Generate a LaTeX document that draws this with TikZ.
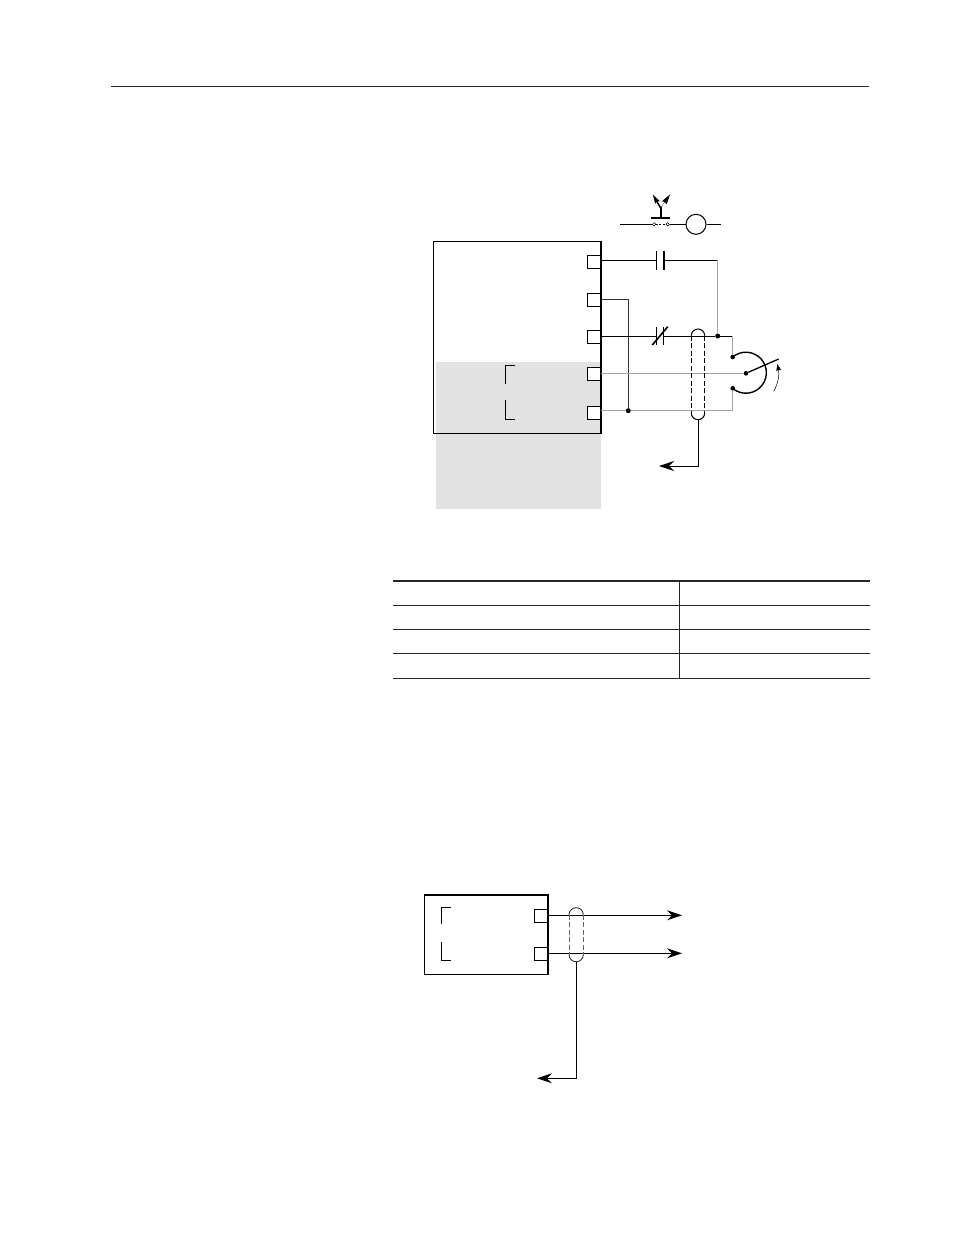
\documentclass[tikz,border=0pt]{standalone}
\usepackage{tikz}
\usetikzlibrary{positioning,arrows.meta}
\definecolor{panelgray}{HTML}{E2E2E2}
\definecolor{wiregray}{HTML}{A4A4A4}
\tikzset{
  term/.style={draw,fill=white,minimum size=13pt,inner sep=0pt,line width=1pt},
  wire/.style={line width=1pt},
  graywire/.style={line width=1pt,draw=wiregray},
  rule/.style={line width=1pt,draw=black!85},
  dot/.style={circle,fill=black,minimum size=5pt,inner sep=0pt},
  opendot/.style={circle,draw,line width=0.5pt,minimum size=3.4pt,inner sep=0pt},
  tip/.style={-{Stealth[length=15pt,width=10pt,inset=5pt]}}
}
\begin{document}
\begin{tikzpicture}[x=1pt,y=-1pt,node distance=37.8pt]
  \useasboundingbox (0,0) rectangle (954,1235);
  \draw[rule] (111,86) coordinate (head1) -- (869,86) coordinate (head2);

  % upper panel
  \node[fill=panelgray,minimum width=165pt,minimum height=147pt,inner sep=0pt] (shade) at (518.5,435.5) {};
  \node[draw,line width=1.2pt,minimum width=167pt,minimum height=192pt,inner sep=0pt] (panel) at (517.2,337.2) {};
  \node[term] (t1) at (593.8,261.8) {};
  \node[term] (t2) [below of=t1] {};
  \node[term] (t3) [below of=t2,yshift=0.8pt] {};
  \node[term] (t4) [below of=t3] {};
  \node[term] (t5) [below of=t4,yshift=-0.4pt] {};
  \draw[line width=2pt] (panel.north east) -- (panel.south east);
  \draw[wire] (515,365.3) -- (505.3,365.3) -- (505.3,383.7);
  \draw[wire] (505.3,400.3) -- (505.3,419.3) -- (515,419.3);

  % push button and lamp
  \node[opendot] (pb1) at (654,224.3) {};
  \node[opendot] (pb2) at (667.7,224.3) {};
  \node[draw,circle,line width=1pt,minimum size=20pt,inner sep=0pt] (lamp) at (696,224.3) {};
  \coordinate (lampin) at (620,224.3);
  \coordinate (lampout) at (720.7,224.3);
  \draw[wire] (lampin) -- (pb1);
  \draw[wire] (pb2) -- (lamp);
  \draw[wire] (lamp) -- (lampout);
  \draw[line width=0.7pt,dashed,dash pattern=on 2pt off 1.5pt] (pb1) -- (pb2);
  \draw[line width=2pt] (651,217.7) -- (670,217.7);
  \draw[line width=1.6pt] (660.7,217.7) -- (660.7,207);
  \draw[line width=1.5pt,-{Stealth[length=9pt,width=5pt,inset=1pt]}] (660.7,208) -- (652.8,194.5);
  \draw[line width=0.6pt,densely dotted,-{Stealth[length=10pt,width=5.5pt,inset=1pt]}] (660.7,208) -- (670,194.5);

  % contacts
  \coordinate (c1a) at (656.3,260.3);
  \coordinate (c1b) at (664,260.3);
  \coordinate (c2a) at (656,336);
  \coordinate (c2b) at (663.7,336);
  \coordinate (corner1) at (717.7,260.3);
  \coordinate (corner2) at (628.3,299.3);
  \node[dot] (j1) at (717.7,336) {};
  \node[dot] (j2) at (628.3,410.7) {};
  \node[dot,minimum size=4.6pt] (pot1) at (732.7,357) {};
  \node[dot,minimum size=4.6pt] (pot2) at (732.7,388.3) {};
  \node[dot,minimum size=4.6pt] (wiper) at (746,373.3) {};
  \coordinate (corner3) at (732.7,336);
  \coordinate (corner4) at (732.7,410.7);
  \coordinate (wipend) at (778.7,359);

  \draw[wire] (t1.east |- c1a) -- (c1a);
  \draw[wire] (c1b) -- (corner1);
  \draw[line width=0.9pt] (656.3,251) -- (656.3,270);
  \draw[line width=1.8pt] (664,251) -- (664,270);
  \draw[graywire] (corner1) -- (j1);
  \draw[wire,draw=black!80] (t2.east |- corner2) -- (corner2) -- (j2);
  \draw[wire] (t3.east |- c2a) -- (c2a);
  \draw[wire] (c2b) -- (j1);
  \draw[line width=0.9pt] (656,326.7) -- (656,345);
  \draw[line width=0.9pt] (663.7,326.7) -- (663.7,345);
  \draw[line width=1.6pt] (652.3,345) -- (667.7,326.7);
  \draw[wire] (j1) -- (corner3);
  \draw[graywire] (corner3) -- (pot1);
  \draw[graywire] (t4.east |- wiper) -- (wiper);
  \draw[graywire,line width=1.3pt] (t5.east |- j2) -- (j2) -- (corner4) -- (pot2);

  % potentiometer
  \draw[line width=1.4pt] (pot1) arc[start angle=130,end angle=-130,radius=20.5pt];
  \draw[line width=1.3pt] (wiper) -- (wipend);
  \draw[line width=0.5pt,-{Stealth[length=7pt,width=5pt,inset=1.5pt]}] (773.7,391.3) .. controls (778.5,383) and (779.5,374) .. (777.3,364);

  % upper shield
  \draw[wire] (691.3,335.7) arc[start angle=180,end angle=0,radius=6.7pt];
  \draw[wire] (704.7,413) arc[start angle=0,end angle=-180,radius=6.7pt];
  \draw[wire,dashed,dash pattern=on 5pt off 2.5pt] (691.3,335.7) -- (691.3,413);
  \draw[wire,dashed,dash pattern=on 5pt off 2.5pt] (704.7,335.7) -- (704.7,413);
  \coordinate (drain1) at (698.3,419.7);
  \coordinate (bend1) at (698.3,466);
  \coordinate (end1) at (659,466);
  \draw[wire,tip] (drain1) -- (bend1) -- (end1);

  % table rules
  \draw[line width=2pt,draw=black!85] (393,581) -- (870,581);
  \draw[rule] (393,605.3) -- (870,605.3);
  \draw[rule] (393,629.3) -- (870,629.3);
  \draw[rule] (393,653.3) -- (870,653.3);
  \draw[rule] (393,678) -- (870,678);
  \draw[rule] (679.3,581) -- (679.3,678);

  % lower panel
  \node[draw,line width=1.5pt,minimum width=123.3pt,minimum height=79.3pt,inner sep=0pt] (unit) at (486.3,934.7) {};
  \node[term] (u1) at (540.7,915.8) {};
  \node[term] (u2) at (540.7,954.4) {};
  \draw[line width=1.5pt] (unit.north east) -- (unit.south east);
  \draw[wire] (450.7,907.3) -- (441.3,907.3) -- (441.3,924.3);
  \draw[wire] (441.3,942.3) -- (441.3,960.3) -- (450.7,960.3);
  \coordinate (out1) at (682,915.3);
  \coordinate (out2) at (682,953.3);
  \draw[wire,tip] (u1.east |- out1) -- (out1);
  \draw[wire,tip] (u2.east |- out2) -- (out2);

  % lower shield
  \draw[line width=0.9pt,draw=black!80] (569,914.8) arc[start angle=180,end angle=0,radius=7.15pt];
  \draw[line width=0.9pt,draw=black!80] (583.3,954.6) arc[start angle=0,end angle=-180,radius=7.15pt];
  \draw[line width=1pt,draw=black!60,dashed,dash pattern=on 5pt off 2.5pt] (569,914.8) -- (569,954.6);
  \draw[line width=1pt,draw=black!60,dashed,dash pattern=on 5pt off 2.5pt] (583.3,914.8) -- (583.3,954.6);
  \coordinate (drain2) at (576.3,961.7);
  \coordinate (bend2) at (576.3,1078.3);
  \coordinate (end2) at (537,1078.3);
  \draw[wire,tip] (drain2) -- (bend2) -- (end2);
\end{tikzpicture}
\end{document}
